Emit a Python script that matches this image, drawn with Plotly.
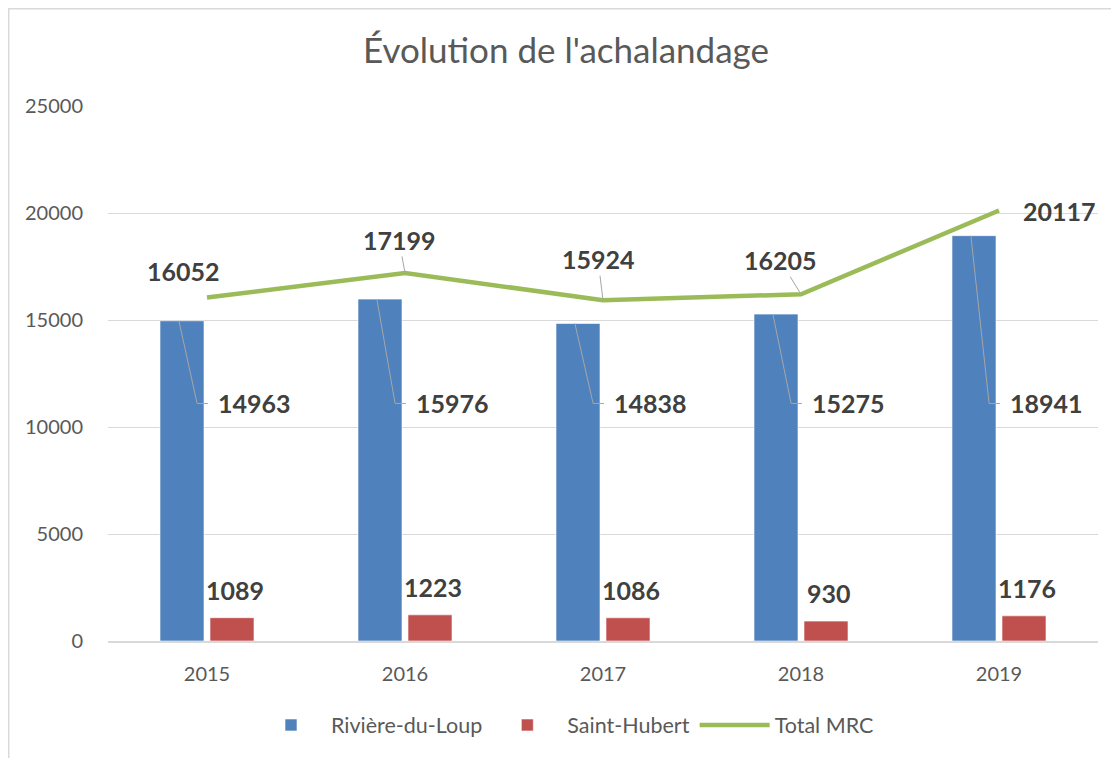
import plotly.graph_objects as go

years = ['2015', '2016', '2017', '2018', '2019']
riviere = [14963, 15976, 14838, 15275, 18941]
saint_hubert = [1089, 1223, 1086, 930, 1176]
total = [16052, 17199, 15924, 16205, 20117]

# label placement styling (pixel offsets for Total MRC labels)
total_dx = [-24, -6, -5, -21, 60]
total_dy = [-26, -33, -41, -34, 0]
total_leader = [False, True, True, True, False]
riviere_label_y = 11100  # labels dragged to a common height

FONT = 'Lato'
BLUE = '#4F81BD'
RED = '#C0504D'
GREEN = '#9BBB59'
LABEL = '#404040'
TXT = '#595959'
GRID = '#D9D9D9'

fig = go.Figure()
fig.add_trace(go.Bar(name='Rivière-du-Loup', x=years, y=riviere,
                     marker=dict(color=BLUE, line=dict(color='rgba(255,255,255,0.6)', width=1))))
fig.add_trace(go.Bar(name='Saint-Hubert', x=years, y=saint_hubert,
                     marker=dict(color=RED, line=dict(color='rgba(255,255,255,0.6)', width=1))))
fig.add_trace(go.Scatter(name='Total MRC', x=years, y=total, mode='lines',
                         line=dict(color=GREEN, width=4.5)))

annotations = []
shapes = []
lab_font = dict(family=FONT, size=25, color=LABEL, weight='bold')
for i in range(len(years)):
    # Rivière-du-Loup labels with elbow leader lines
    annotations.append(dict(x=i + 0.045, y=riviere_label_y, xref='x', yref='y',
                            text=f'<b>{riviere[i]}</b>', showarrow=False,
                            xanchor='left', yanchor='middle', font=lab_font))
    shapes.append(dict(type='line', xref='x', yref='y', x0=i - 0.142, y0=riviere[i],
                       x1=i - 0.05, y1=riviere_label_y, line=dict(color='#A6A6A6', width=1)))
    shapes.append(dict(type='line', xref='x', yref='y', x0=i - 0.05, y0=riviere_label_y,
                       x1=i + 0.005, y1=riviere_label_y, line=dict(color='#A6A6A6', width=1)))
    # Saint-Hubert labels
    annotations.append(dict(x=i + 0.139, y=saint_hubert[i], xref='x', yref='y',
                            text=f'<b>{saint_hubert[i]}</b>', showarrow=False,
                            yshift=28, xanchor='center', yanchor='middle', font=lab_font))
    # Total labels
    annotations.append(dict(x=i, y=total[i], xref='x', yref='y',
                            text=f'<b>{total[i]}</b>', showarrow=True,
                            ax=total_dx[i], ay=total_dy[i], arrowhead=0, arrowwidth=1,
                            arrowcolor='#A6A6A6' if total_leader[i] else 'rgba(0,0,0,0)',
                            standoff=0, font=lab_font))

# chart border (light gray frame, left and top visible)
shapes.append(dict(type='rect', xref='paper', yref='paper',
                   x0=(0.7 - 100) / 990, x1=(1130 - 100) / 990,
                   y0=(633 - 770) / 535, y1=(633 - 0.7) / 535,
                   line=dict(color=GRID, width=1.5), fillcolor='rgba(0,0,0,0)', layer='below'))

fig.update_layout(
    width=1111, height=750, autosize=False,
    margin=dict(l=100, r=21, t=98, b=117),
    paper_bgcolor='white', plot_bgcolor='white',
    title=dict(text="Évolution de l'achalandage", x=(566 - 108) / 990, xref='paper',
               xanchor='center', y=1 - 43 / 750, yref='container', yanchor='middle',
               font=dict(family=FONT, size=35, color=TXT)),
    barmode='group', bargap=0.495, bargroupgap=0.12,
    showlegend=True,
    legend=dict(orientation='h', x=(565 - 108) / 990, xanchor='center',
                y=(641 - 725) / 535, yanchor='middle',
                font=dict(family=FONT, size=21.5, color=TXT), itemwidth=70,
                traceorder='normal'),
    xaxis=dict(type='category', showgrid=False, showline=True, linecolor=GRID, linewidth=1.5,
               ticks='outside', ticklen=14, tickcolor='rgba(0,0,0,0)',
               tickfont=dict(family=FONT, size=20, color=TXT)),
    yaxis=dict(range=[0, 25000], dtick=5000, tickformat='d', showgrid=True, gridcolor=GRID,
               gridwidth=1, zeroline=False, showline=False,
               ticks='outside', ticklen=20, tickcolor='rgba(0,0,0,0)',
               tickfont=dict(family=FONT, size=20, color=TXT)),
    annotations=annotations, shapes=shapes,
)

fig.write_html('out.html')
